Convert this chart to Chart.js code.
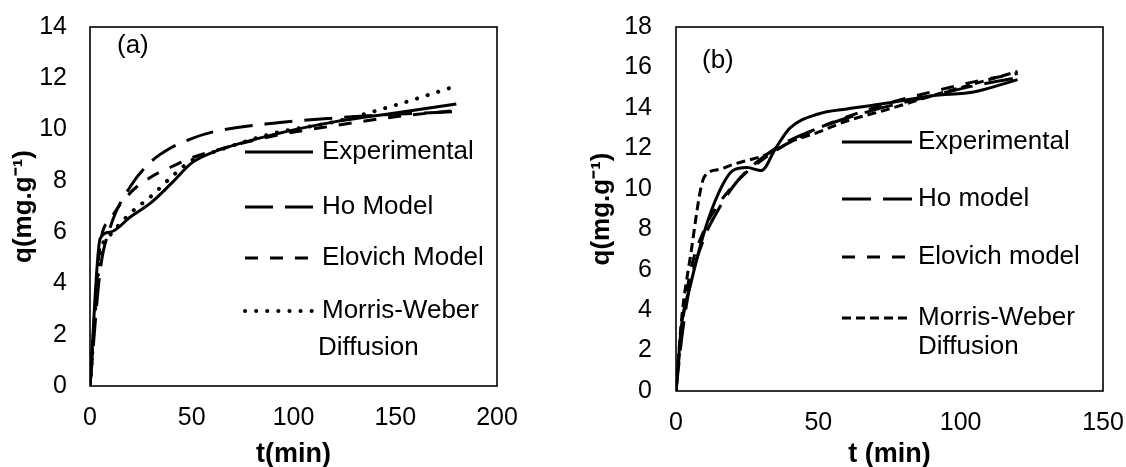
<!DOCTYPE html>
<html>
<head>
<meta charset="utf-8">
<script src="https://cdn.jsdelivr.net/npm/chart.js@4/dist/chart.umd.min.js"></script>
<style>
  html, body { margin: 0; padding: 0; background: #fff; }
  #wrap { position: relative; width: 1126px; height: 467px; overflow: hidden; }
  canvas { position: absolute; top: 0; }
  #chartA { left: 0; }
  #chartB { left: 540px; }
</style>
</head>
<body>
<div id="wrap">
  <canvas id="chartA" width="540" height="467"></canvas>
  <canvas id="chartB" width="586" height="467"></canvas>
</div>
<script>
// panel (a)
const tA = [0, 5, 10, 20, 30, 40, 50, 60, 90, 120, 150, 180];
const expA = [0, 5.75, 6.0, 6.6, 7.15, 7.9, 8.7, 9.1, 9.8, 10.3, 10.65, 11.0];
const hoA = [0, 4.5, 6.2, 7.8, 8.75, 9.3, 9.65, 9.9, 10.25, 10.45, 10.6, 10.7];
const elovichA = [0, 5.5, 6.5, 7.55, 8.15, 8.55, 8.9, 9.15, 9.75, 10.15, 10.5, 10.75];
const mwA = [0, 5.1, 5.9, 6.75, 7.4, 8.15, 8.8, 9.1, 9.85, 10.3, 10.95, 11.7];
const labelsA = ['Experimental', 'Ho Model', 'Elovich Model', 'Morris-Weber\nDiffusion'];

// panel (b)
const tB = [0, 2, 5, 10, 15, 20, 25, 30, 35, 40, 50, 60, 75, 90, 105, 120];
const expB = [0, 3.3, 5.2, 7.9, 9.8, 10.9, 11.05, 10.9, 12.0, 13.0, 13.7, 13.95, 14.25, 14.6, 14.8, 15.4];
const hoB = [0, 2.6, 5.3, 7.6, 9.0, 10.1, 10.9, 11.5, 12.0, 12.4, 13.0, 13.5, 14.1, 14.6, 15.1, 15.5];
const elovichB = [0, 3.0, 5.85, 8.0, 9.25, 10.15, 10.85, 11.4, 11.9, 12.3, 13.0, 13.55, 14.25, 14.8, 15.3, 15.7];
const mwB = [0, 3.6, 6.6, 10.6, 10.95, 11.2, 11.4, 11.6, 11.9, 12.3, 12.8, 13.35, 13.95, 14.6, 15.2, 15.8];
const labelsB = ['Experimental', 'Ho model', 'Elovich model', 'Morris-Weber\nDiffusion'];

const FONT = '"Liberation Sans", Arial, sans-serif';

function pts(ts, qs) {
  return ts.map((t, i) => ({ x: t, y: qs[i] }));
}

// plot frame, panel tag and the in-plot legend
const framePlugin = {
  id: 'frame',
  beforeDatasetsDraw(chart) {
    const { ctx, chartArea: a } = chart;
    ctx.save();
    ctx.strokeStyle = '#000';
    ctx.lineWidth = 1.6;
    ctx.strokeRect(a.left, a.top, a.right - a.left, a.bottom - a.top);
    ctx.restore();
  },
  afterDatasetsDraw(chart, args, o) {
    const ctx = chart.ctx;
    ctx.save();
    ctx.fillStyle = '#000';
    ctx.textBaseline = 'middle';
    ctx.font = '26px ' + FONT;
    ctx.fillText(o.tag, o.tagX, o.tagY);
    chart.data.datasets.forEach((ds, i) => {
      const y = o.rows[i];
      ctx.save();
      ctx.strokeStyle = ds.borderColor;
      ctx.lineWidth = ds.borderWidth;
      ctx.lineCap = ds.borderCapStyle || 'butt';
      ctx.setLineDash(ds.borderDash || []);
      ctx.beginPath();
      ctx.moveTo(o.lineX0, y);
      ctx.lineTo(o.lineX1, y);
      ctx.stroke();
      ctx.restore();
      ds.label.split('\n').forEach((s, k) => {
        ctx.fillText(s, o.textX + (k ? o.dx2 : 0), y + k * o.lineGap);
      });
    });
    ctx.restore();
  }
};

function series(label, data, dash, cap, width) {
  return {
    label,
    data,
    borderColor: '#000',
    borderWidth: width || 3,
    borderDash: dash,
    borderCapStyle: cap || 'butt',
    pointRadius: 0,
    fill: false,
    cubicInterpolationMode: 'monotone'
  };
}

function makeChart(canvas, cfg) {
  return new Chart(canvas, {
    type: 'line',
    data: { datasets: cfg.datasets },
    options: {
      responsive: false,
      animation: false,
      devicePixelRatio: 1,
      layout: { padding: { top: 27, right: cfg.padRight, left: 0, bottom: 0 } },
      plugins: {
        legend: { display: false },
        tooltip: { enabled: false },
        frame: cfg.frame
      },
      scales: {
        x: {
          type: 'linear',
          min: 0,
          max: cfg.xMax,
          grid: { display: false, drawTicks: false },
          border: { display: false },
          ticks: { stepSize: 50, padding: 17, color: '#000', font: { family: FONT, size: 25 } },
          title: {
            display: true,
            text: cfg.xTitle,
            color: '#000',
            font: { family: FONT, size: 27, weight: 'bold', lineHeight: 1 },
            padding: { top: 0, bottom: -1 }
          },
          afterFit: (s) => {
            s.height = cfg.xHeight;
            s.paddingLeft = 0;
            s.paddingRight = 0;
          }
        },
        y: {
          min: 0,
          max: cfg.yMax,
          grid: { display: false, drawTicks: false },
          border: { display: false },
          ticks: { stepSize: 2, padding: cfg.yTickPad, color: '#000', font: { family: FONT, size: 25 } },
          title: {
            display: true,
            text: 'q(mg.g\u207B\u00B9)',
            color: '#000',
            font: { family: FONT, size: 26, weight: 'bold', lineHeight: 1.2 },
            padding: { top: cfg.yTitlePad, bottom: 0 }
          },
          afterFit: (s) => {
            s.width = cfg.yWidth;
            s.paddingTop = 0;
            s.paddingBottom = 0;
          }
        }
      }
    },
    plugins: [framePlugin]
  });
}

makeChart(document.getElementById('chartA'), {
  datasets: [
    series(labelsA[0], pts(tA, expA), []),
    series(labelsA[1], pts(tA, hoA), [28, 12]),
    series(labelsA[2], pts(tA, elovichA), [13, 12]),
    series(labelsA[3], pts(tA, mwA), [0.1, 11], 'round', 4)
  ],
  xMax: 200, yMax: 14, xTitle: 't(min)',
  padRight: 43, xHeight: 81, yWidth: 90, yTickPad: 23, yTitlePad: 8,
  frame: {
    tag: '(a)', tagX: 117, tagY: 46,
    lineX0: 245, lineX1: 313, textX: 322, dx2: -4, lineGap: 37,
    rows: [152, 207, 258, 311]
  }
});

makeChart(document.getElementById('chartB'), {
  datasets: [
    series(labelsB[0], pts(tB, expB), []),
    series(labelsB[1], pts(tB, hoB), [29, 12]),
    series(labelsB[2], pts(tB, elovichB), [13, 12]),
    series(labelsB[3], pts(tB, mwB), [9, 5])
  ],
  xMax: 150, yMax: 18, xTitle: 't (min)',
  padRight: 23, xHeight: 76, yWidth: 136, yTickPad: 24, yTitlePad: 46,
  frame: {
    tag: '(b)', tagX: 162, tagY: 61,
    lineX0: 302, lineX1: 372, textX: 378, dx2: 0, lineGap: 29,
    rows: [142, 199, 257, 318]
  }
});
</script>
</body>
</html>
